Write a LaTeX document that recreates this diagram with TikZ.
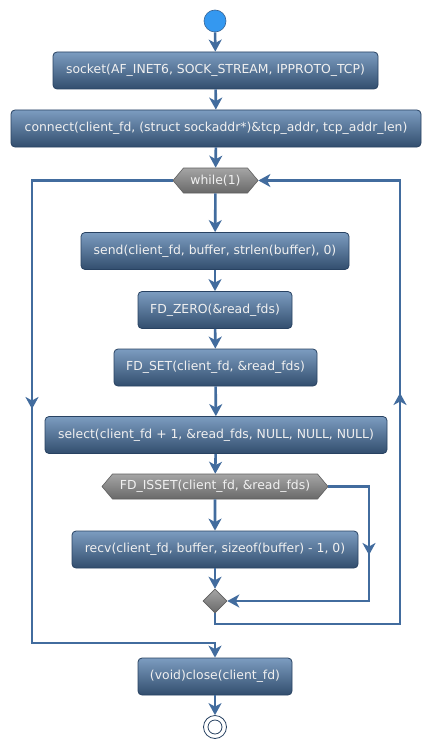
\documentclass[tikz,border=0pt]{standalone}
\usepackage{fontspec}
\setmainfont{DejaVu Sans}
\usetikzlibrary{arrows.meta,shapes.geometric,shapes.symbols}
\definecolor{lineblue}{RGB}{66,108,158}
\definecolor{boxtop}{RGB}{124,156,192}
\definecolor{boxbot}{RGB}{50,78,110}
\definecolor{boxborder}{RGB}{40,66,98}
\definecolor{boxtext}{RGB}{240,240,240}
\definecolor{hextop}{RGB}{165,165,165}
\definecolor{hexbot}{RGB}{105,105,105}
\definecolor{hexborder}{RGB}{95,95,95}
\definecolor{startfill}{RGB}{52,152,240}
\definecolor{startborder}{RGB}{55,100,150}
\definecolor{endborder}{RGB}{40,66,98}
\tikzset{
  actbox/.style={rectangle, rounded corners=4pt, draw=boxborder, line width=0.8pt,
    top color=boxtop, bottom color=boxbot, text=boxtext, minimum height=37pt, inner sep=0pt},
  hexa/.style={signal, signal to=west and east, signal pointer angle=100, draw=hexborder,
    line width=0.6pt, top color=hextop, bottom color=hexbot, text=boxtext,
    minimum height=25pt, inner sep=0pt},
  mergebox/.style={diamond, draw=hexborder, line width=0.6pt, top color=hextop,
    bottom color=hexbot, minimum width=24pt, minimum height=24pt, inner sep=0pt},
  conn/.style={draw=lineblue, line width=2.6pt, -{Stealth[length=12pt,width=13pt,inset=3.5pt]}}
}
\begin{document}
\begin{tikzpicture}[x=1pt,y=-1pt, font=\fontsize{12.4}{14}\selectfont]
\useasboundingbox[fill=white] (0,0) rectangle (430,749);

\node[circle, fill=startfill, draw=startborder, line width=0.6pt, minimum size=22pt, inner sep=0pt] (start) at (215,21) {};
\node[actbox, minimum width=325pt] (socket) at (215.5,70.5) {socket(AF\_INET6, SOCK\_STREAM, IPPROTO\_TCP)};
\node[actbox, minimum width=410pt] (connect) at (216,128.5) {connect(client\_fd, (struct sockaddr*)\&tcp\_addr, tcp\_addr\_len)};
\node[hexa, minimum width=85pt] (while) at (215.5,180.5) {while(1)};
\node[actbox, minimum width=268pt] (send) at (215,251) {send(client\_fd, buffer, strlen(buffer), 0)};
\node[actbox, minimum width=154pt] (zero) at (215,310) {FD\_ZERO(\&read\_fds)};
\node[actbox, minimum width=203pt] (fdset) at (215.5,367.5) {FD\_SET(client\_fd, \&read\_fds)};
\node[actbox, minimum width=342pt] (select) at (216,435) {select(client\_fd + 1, \&read\_fds, NULL, NULL, NULL)};
\node[hexa, minimum width=226pt] (isset) at (215,486.5) {FD\_ISSET(client\_fd, \&read\_fds)};
\node[actbox, minimum width=286pt] (recv) at (215,549.5) {recv(client\_fd, buffer, sizeof(buffer) - 1, 0)};
\node[mergebox] (merge) at (215,601) {};
\node[actbox, minimum width=154pt] (close) at (215,676.5) {(void)close(client\_fd)};
\node[circle, draw=endborder, fill=white, line width=0.8pt, minimum size=23pt, inner sep=0pt] (end) at (215,727) {};
\node[circle, draw=endborder, line width=0.8pt, minimum size=14pt, inner sep=0pt] (endin) at (215,727) {};

\coordinate (lt) at (32,180.5);
\coordinate (lb) at (32,643);
\coordinate (lc) at (215,643);
\coordinate (rb) at (215,624);
\coordinate (rr) at (400,624);
\coordinate (rt) at (400,180.5);
\coordinate (it) at (369,486.5);
\coordinate (ib) at (369,601);
% mid-line arrowheads
\coordinate (la0) at (32,388);   \coordinate (la1) at (32,409);
\coordinate (ra0) at (400,414);  \coordinate (ra1) at (400,393);
\coordinate (ia0) at (369,534);  \coordinate (ia1) at (369,555);

\draw[conn] (start) -- (socket);
\draw[conn] (socket) -- (connect);
\draw[conn] (connect) -- (while);
\draw[conn] (while) -- (send);
\draw[conn] (send) -- (zero);
\draw[conn] (zero) -- (fdset);
\draw[conn] (fdset) -- (select);
\draw[conn] (select) -- (isset);
\draw[conn] (isset) -- (recv);
\draw[conn] (recv) -- (merge);
\draw[conn] (isset.east) -- (it) -- (ib) -- (merge.east);
\draw[conn] (merge.south) -- (rb) -- (rr) -- (rt) -- (while.east);
\draw[conn] (while.west) -- (lt) -- (lb) -- (lc) -- (close.north);
\draw[conn] (close) -- (end);
\draw[conn] (la0) -- (la1);
\draw[conn] (ra0) -- (ra1);
\draw[conn] (ia0) -- (ia1);
\end{tikzpicture}
\end{document}
